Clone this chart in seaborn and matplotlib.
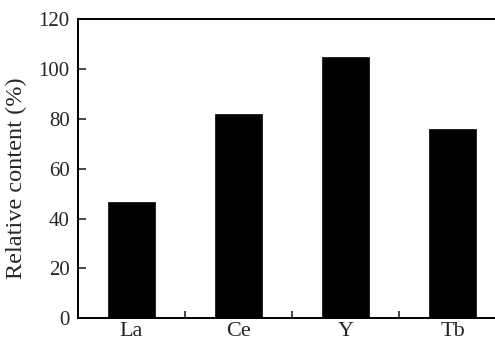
import matplotlib
matplotlib.use("Agg")
import matplotlib.pyplot as plt
import seaborn as sns
import pandas as pd
from matplotlib.ticker import FixedLocator

categories = ["La", "Ce", "Y", "Tb"]
values = [46.7, 81.9, 104.9, 76.0]

sns.set_theme(style="ticks")
plt.rcParams['font.family'] = ['Liberation Serif', 'DejaVu Serif']

df = pd.DataFrame({"element": categories, "content": values})

fig = plt.figure(figsize=(4.95, 3.45), dpi=100)
ax = fig.add_axes([78/495, 26.7/345, 428/495, 299.3/345])
sns.barplot(data=df, x="element", y="content", color="black", width=0.43,
            edgecolor="black", linewidth=0.5, saturation=1, ax=ax)

ax.set_xlim(-0.5, 3.5)
ax.set_ylim(0, 120)
ax.set_yticks([0, 20, 40, 60, 80, 100, 120])
ax.set_xlabel("")
ax.set_ylabel("Relative content (%)", fontsize=17.5)
ax.yaxis.set_label_coords(-0.118, 0.467)
ax.tick_params(axis="y", direction="in", length=6, width=1.2, labelsize=15, pad=6)
ax.tick_params(axis="x", which="major", length=0, labelsize=16, pad=3)
ax.xaxis.set_minor_locator(FixedLocator([0.5, 1.5, 2.5]))
ax.tick_params(axis="x", which="minor", direction="in", length=5, width=1.2)
for s in ax.spines.values():
    s.set_linewidth(1.4)
    s.set_color("black")

fig.savefig("out.png", dpi=100)
